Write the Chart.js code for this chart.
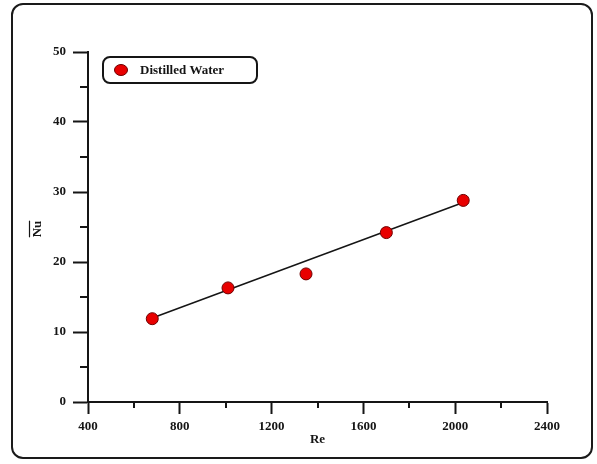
<!DOCTYPE html>
<html>
<head>
<meta charset="utf-8">
<script src="https://cdn.jsdelivr.net/npm/chart.js@4/dist/chart.umd.min.js"></script>
<style>
    html, body { margin: 0; padding: 0; background: #ffffff; }
    #wrap { position: relative; width: 597px; height: 464px; }
    #frame {
        position: absolute; left: 11px; top: 3px; width: 582px; height: 456px;
        border: 2px solid #1a1a1a; border-radius: 12px; box-sizing: border-box;
    }
    #chartNu { position: absolute; left: 0; top: 0; }
</style>
</head>
<body>
<div id="wrap">
    <div id="frame"></div>
    <canvas id="chartNu" width="597" height="464"></canvas>
</div>
<script>
// Measured Reynolds numbers and average Nusselt numbers
const reValues = [680, 1010, 1350, 1700, 2035];
const nuValues = [11.9, 16.3, 18.3, 24.2, 28.8];

// Straight fit through the measurements (end points)
const fitRe = [680, 2035];
const fitNu = [12.0, 28.5];

const seriesLabel = 'Distilled Water';
const xTitle = 'Re';
const yTitle = 'Nu';

// Axis ranges and tick spacing
const xRange = [400, 2400];
const yRange = [0, 50];
const xMinorTicks = [600, 1000, 1400, 1800, 2200];
const yMinorTicks = [5, 15, 25, 35, 45];

const ink = '#151515';
const serif = 'Liberation Serif, Times New Roman, serif';

// Short minor ticks between the labelled ones
const minorTicks = {
    id: 'minorTicks',
    afterDraw(chart) {
        const { ctx, chartArea, scales } = chart;
        ctx.save();
        ctx.strokeStyle = ink;
        ctx.lineWidth = 2;
        xMinorTicks.forEach(v => {
            const px = Math.round(scales.x.getPixelForValue(v));
            ctx.beginPath();
            ctx.moveTo(px, chartArea.bottom);
            ctx.lineTo(px, chartArea.bottom + 6);
            ctx.stroke();
        });
        yMinorTicks.forEach(v => {
            const py = Math.round(scales.y.getPixelForValue(v));
            ctx.beginPath();
            ctx.moveTo(chartArea.left, py);
            ctx.lineTo(chartArea.left - 8, py);
            ctx.stroke();
        });
        ctx.restore();
    }
};

// Y title is Nu with a bar over it (mean value), rotated
const barTitle = {
    id: 'barTitle',
    afterDraw(chart) {
        const { ctx, chartArea } = chart;
        const cx = 38;
        const cy = (chartArea.top + chartArea.bottom) / 2 + 2;
        ctx.save();
        ctx.translate(cx, cy);
        ctx.rotate(-Math.PI / 2);
        ctx.fillStyle = ink;
        ctx.font = 'bold 13px ' + serif;
        ctx.textAlign = 'center';
        ctx.textBaseline = 'middle';
        ctx.fillText(yTitle, 0, 0);
        const w = ctx.measureText(yTitle).width;
        ctx.strokeStyle = ink;
        ctx.lineWidth = 1.2;
        ctx.beginPath();
        ctx.moveTo(-w / 2, -8.5);
        ctx.lineTo(w / 2, -8.5);
        ctx.stroke();
        ctx.restore();
    }
};

// Boxed legend inside the plot area
const boxLegend = {
    id: 'boxLegend',
    afterDraw(chart) {
        const { ctx, chartArea } = chart;
        const ds = chart.data.datasets[0];
        const x = chartArea.left + 15;
        const y = chartArea.top + 5;
        const w = 154, h = 26;
        ctx.save();
        ctx.fillStyle = '#ffffff';
        ctx.strokeStyle = ink;
        ctx.lineWidth = 2;
        ctx.beginPath();
        ctx.roundRect(x, y, w, h, 7);
        ctx.fill();
        ctx.stroke();

        ctx.fillStyle = ds.backgroundColor;
        ctx.strokeStyle = ds.borderColor;
        ctx.lineWidth = 1;
        ctx.beginPath();
        ctx.ellipse(x + 18, y + h / 2, 6.5, 5.5, 0, 0, Math.PI * 2);
        ctx.fill();
        ctx.stroke();

        ctx.fillStyle = ink;
        ctx.font = 'bold 13px ' + serif;
        ctx.textBaseline = 'middle';
        ctx.textAlign = 'left';
        ctx.fillText(ds.label, x + 37, y + h / 2 + 1);
        ctx.restore();
    }
};

const tickFont = { family: serif, size: 13, weight: 'bold' };

new Chart(document.getElementById('chartNu'), {
    type: 'scatter',
    data: {
        datasets: [
            {
                label: seriesLabel,
                data: reValues.map((re, i) => ({ x: re, y: nuValues[i] })),
                backgroundColor: '#e80000',
                borderColor: '#6e0000',
                borderWidth: 1,
                pointRadius: 6,
                pointHoverRadius: 6,
                order: 0
            },
            {
                label: 'fit',
                data: fitRe.map((re, i) => ({ x: re, y: fitNu[i] })),
                showLine: true,
                borderColor: ink,
                borderWidth: 1.5,
                pointRadius: 0,
                fill: false,
                order: 1
            }
        ]
    },
    options: {
        responsive: false,
        animation: false,
        layout: { padding: { left: 14, right: 50, top: 52, bottom: 12 } },
        plugins: {
            legend: { display: false },
            tooltip: { enabled: false }
        },
        scales: {
            x: {
                type: 'linear',
                min: xRange[0],
                max: xRange[1],
                afterFit: scale => { scale.height = 50; },
                border: { display: true, color: ink, width: 2 },
                grid: { drawOnChartArea: false, drawTicks: true, tickLength: 12, tickColor: ink, tickWidth: 2 },
                ticks: {
                    stepSize: 400, color: ink, font: tickFont, padding: 5, maxRotation: 0,
                    callback: v => String(v)
                },
                title: { display: true, text: xTitle, color: ink, font: tickFont, padding: { top: 0, bottom: 5 } }
            },
            y: {
                type: 'linear',
                min: yRange[0],
                max: yRange[1],
                afterFit: scale => { scale.width = 74; },
                border: { display: true, color: ink, width: 2 },
                grid: { drawOnChartArea: false, drawTicks: true, tickLength: 15, tickColor: ink, tickWidth: 2 },
                ticks: { stepSize: 10, color: ink, font: tickFont, padding: 7, callback: v => String(v) }
            }
        }
    },
    plugins: [minorTicks, barTitle, boxLegend]
});
</script>
</body>
</html>
